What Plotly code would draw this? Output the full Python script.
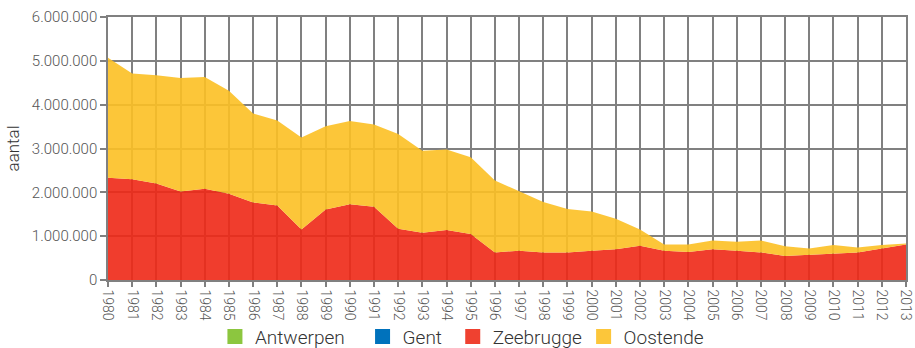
import plotly.graph_objects as go

# Passagiers per haven (aantal), 1980-2013
years = list(range(1980, 2014))

antwerpen = [0] * len(years)
gent = [0] * len(years)
zeebrugge = [
    2330000, 2300000, 2200000, 2020000, 2080000, 1970000, 1770000, 1700000,
    1150000, 1610000, 1730000, 1670000, 1170000, 1080000, 1140000, 1050000,
    630000, 670000, 630000, 630000, 670000, 700000, 780000, 670000,
    640000, 700000, 670000, 630000, 550000, 580000, 610000, 630000,
    720000, 810000,
]
totaal = [
    5070000, 4710000, 4670000, 4610000, 4630000, 4320000, 3800000, 3640000,
    3250000, 3510000, 3630000, 3550000, 3330000, 2950000, 2980000, 2800000,
    2270000, 2020000, 1780000, 1620000, 1560000, 1400000, 1150000, 810000,
    810000, 900000, 870000, 900000, 770000, 720000, 800000, 740000,
    800000, 830000,
]
oostende = [t - z for t, z in zip(totaal, zeebrugge)]

series = [
    ("Antwerpen", antwerpen, "rgba(125,190,50,0.9)", "#8cc63f"),
    ("Gent", gent, "rgba(0,105,185,0.9)", "#0072bc"),
    ("Zeebrugge", zeebrugge, "rgba(238,40,22,0.9)", "#ef4130"),
    ("Oostende", oostende, "rgba(252,192,35,0.9)", "#fcc63a"),
]

FONT = "Roboto"
TXT = "#555555"
GRID = "#808080"

fig = go.Figure()

for name, vals, fill, _ in series:
    fig.add_trace(go.Scatter(
        x=years, y=vals, name=name, stackgroup="havens",
        mode="lines", line=dict(width=0), fillcolor=fill,
        showlegend=False, hoverinfo="x+y+name",
    ))

# Legend entries: one small legend per haven, with a square swatch
legend_x = [0.134, 0.319, 0.432, 0.596]
for i, ((name, _, _, solid), lx) in enumerate(zip(series, legend_x)):
    key = "legend" if i == 0 else f"legend{i + 1}"
    fig.add_trace(go.Scatter(
        x=[None], y=[None], mode="markers", name=name,
        marker=dict(symbol="square", size=15, color=solid),
        showlegend=True, legend=key,
    ))
    fig.layout[key] = dict(
        x=lx, y=-0.215, xanchor="left", yanchor="middle",
        orientation="h",
        font=dict(family=FONT, size=19, color="#333333", weight=300),
        bgcolor="rgba(0,0,0,0)", itemwidth=30, tracegroupgap=0,
    )

fig.update_layout(
    width=915, height=348,
    margin=dict(l=108, r=9, t=17, b=68, autoexpand=False),
    paper_bgcolor="white", plot_bgcolor="white",
    separators=",.",
    font=dict(family=FONT, color=TXT, weight=300),
    showlegend=True,
)

fig.update_xaxes(
    range=[1980, 2013], dtick=1, tick0=1980,
    tickangle=90, tickfont=dict(size=14, color=TXT, weight=300),
    showgrid=True, gridcolor=GRID, gridwidth=1.5,
    showline=True, linecolor=GRID, linewidth=1.5, mirror=True,
    ticks="outside", ticklen=5, tickcolor=GRID, tickwidth=1.5,
    zeroline=False, automargin=False,
)
fig.update_yaxes(
    range=[0, 6000000], dtick=1000000, tickformat=",d",
    tickfont=dict(size=15, color=TXT, weight=300),
    title=dict(text="aantal", font=dict(size=17, color="#333333", weight=300),
               standoff=8),
    showgrid=True, gridcolor=GRID, gridwidth=1.5,
    showline=True, linecolor=GRID, linewidth=1.5, mirror=True,
    ticks="outside", ticklen=6, tickcolor=GRID, tickwidth=1.5,
    zeroline=False, automargin=False,
)

fig.write_html("out.html")
